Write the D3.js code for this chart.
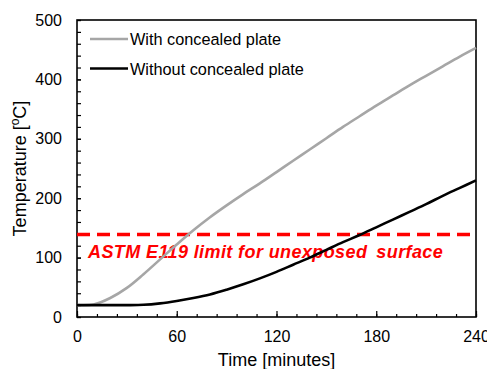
<!DOCTYPE html>
<html>
<head>
<meta charset="utf-8">
<script src="https://cdn.jsdelivr.net/npm/d3@7"></script>
<style>
  body { margin: 0; background: #fff; }
  svg { display: block; font-family: Arial, "Liberation Sans", sans-serif; }
</style>
</head>
<body>
<svg id="chart" width="487" height="369"></svg>
<script>
// time in minutes
const timeWith = [0, 10, 20, 30, 40, 50, 60, 70, 80, 90, 100, 110, 120, 130, 140, 150, 160, 170, 180, 190, 200, 210, 220, 230, 240];
const tempWith = [20, 21, 32, 49, 72, 97, 122, 146, 168, 188, 207, 225, 244, 263, 282, 301, 320, 338, 356, 373, 390, 406, 422, 438, 453];

const timeWithout = [0, 10, 20, 30, 40, 50, 60, 70, 80, 90, 100, 110, 120, 130, 140, 150, 160, 170, 180, 190, 200, 210, 220, 230, 240];
const tempWithout = [20, 20, 20, 20, 20.5, 23, 27, 32, 38, 46, 55, 65, 76, 88, 100, 113, 126, 138, 151, 164, 177, 190, 204, 217, 230];

const xTicks = [0, 60, 120, 180, 240];
const yTicks = [0, 100, 200, 300, 400, 500];
const limitTemp = 139;

const series = [
    {name: 'With concealed plate', color: '#a6a6a6', t: timeWith, v: tempWith},
    {name: 'Without concealed plate', color: '#000000', t: timeWithout, v: tempWithout}
];

const svg = d3.select('#chart');
const margin = {left: 77, top: 20, right: 11, bottom: 52};
const W = 487, H = 369;

const x = d3.scaleLinear().domain([0, 240]).range([margin.left, W - margin.right]);
const y = d3.scaleLinear().domain([0, 500]).range([H - margin.bottom, margin.top]);

// minor ticks (inside)
const xMinor = d3.range(0, 241, 12);
const yMinor = d3.range(0, 501, 20);

svg.append('g')
    .attr('transform', 'translate(0,' + y(0) + ')')
    .call(d3.axisBottom(x).tickValues(xMinor).tickSize(-3).tickFormat(''))
    .call(g => g.select('.domain').remove())
    .selectAll('line').attr('stroke', '#000').attr('stroke-width', 1.2);

svg.append('g')
    .attr('transform', 'translate(' + x(0) + ',0)')
    .call(d3.axisLeft(y).tickValues(yMinor).tickSize(-4).tickFormat(''))
    .call(g => g.select('.domain').remove())
    .selectAll('line').attr('stroke', '#000').attr('stroke-width', 1.2);

// major axes
const xAxis = svg.append('g')
    .attr('transform', 'translate(0,' + y(0) + ')')
    .call(d3.axisBottom(x).tickValues(xTicks).tickSize(-6).tickPadding(14));
xAxis.select('.domain').remove();
xAxis.selectAll('line').attr('stroke', '#000').attr('stroke-width', 1.2);
xAxis.selectAll('text').attr('font-size', 16).attr('fill', '#000')
    .attr('font-family', 'Arial, "Liberation Sans", sans-serif');

const yAxis = svg.append('g')
    .attr('transform', 'translate(' + x(0) + ',0)')
    .call(d3.axisLeft(y).tickValues(yTicks).tickSize(-4).tickPadding(15));
yAxis.select('.domain').remove();
yAxis.selectAll('line').attr('stroke', '#000').attr('stroke-width', 1.2);
yAxis.selectAll('text').attr('font-size', 16).attr('fill', '#000')
    .attr('font-family', 'Arial, "Liberation Sans", sans-serif');

// frame
svg.append('rect')
    .attr('x', x(0)).attr('y', y(500))
    .attr('width', x(240) - x(0)).attr('height', y(0) - y(500))
    .attr('fill', 'none').attr('stroke', '#000').attr('stroke-width', 1.6);

// limit line
svg.append('line')
    .attr('x1', x(0)).attr('x2', x(240))
    .attr('y1', y(limitTemp)).attr('y2', y(limitTemp))
    .attr('stroke', '#ff0000').attr('stroke-width', 3.5)
    .attr('stroke-dasharray', '13,7');

const limitLabel = svg.append('text')
    .attr('x', 88).attr('y', y(limitTemp) + 24)
    .attr('fill', '#ff0000').attr('font-size', 18)
    .attr('font-weight', 'bold').attr('font-style', 'italic')
    .attr('letter-spacing', 0.4);
limitLabel.append('tspan').text('ASTM E119 limit for unexposed');
limitLabel.append('tspan').attr('dx', 9).text('surface');

// curves
const line = d3.line().curve(d3.curveCatmullRom.alpha(0.5));
series.forEach(s => {
    svg.append('path')
        .datum(s.t.map((t, i) => [x(t), y(s.v[i])]))
        .attr('d', line)
        .attr('fill', 'none')
        .attr('stroke', s.color)
        .attr('stroke-width', 2.6);
});

// legend
const legend = svg.append('g');
series.forEach((s, i) => {
    const ly = 39 + i * 29.5;
    legend.append('line')
        .attr('x1', 90).attr('x2', 128)
        .attr('y1', ly).attr('y2', ly)
        .attr('stroke', s.color).attr('stroke-width', 2.6);
    legend.append('text')
        .attr('x', 130).attr('y', ly + 6)
        .attr('font-size', 16.3).attr('fill', '#000')
        .text(s.name);
});

// axis titles
svg.append('text')
    .attr('x', (x(0) + x(240)) / 2).attr('y', 366)
    .attr('text-anchor', 'middle').attr('font-size', 18)
    .text('Time [minutes]');

const yl = svg.append('text')
    .attr('transform', 'translate(26,' + ((y(0) + y(500)) / 2) + ') rotate(-90)')
    .attr('text-anchor', 'middle').attr('font-size', 18);
yl.append('tspan').text('Temperature [');
yl.append('tspan').attr('font-size', 12).attr('dy', -7).text('o');
yl.append('tspan').attr('dy', 7).text('C]');
</script>
</body>
</html>
